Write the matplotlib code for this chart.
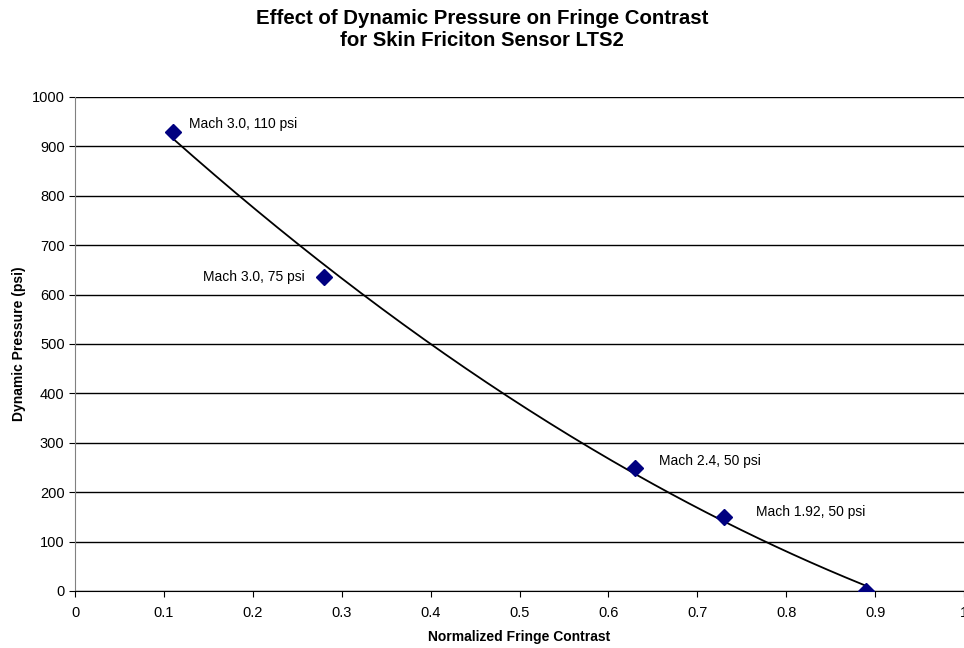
import numpy as np
import matplotlib
matplotlib.use("Agg")
import matplotlib.pyplot as plt

plt.rcParams['font.family'] = ['Liberation Sans', 'DejaVu Sans']

contrast = [0.11, 0.28, 0.63, 0.73, 0.89]
pressure = [930, 635, 250, 150, 0]
labels = ["Mach 3.0, 110 psi", "Mach 3.0, 75 psi", "Mach 2.4, 50 psi", "Mach 1.92, 50 psi", ""]
x_ticks = [0, 0.1, 0.2, 0.3, 0.4, 0.5, 0.6, 0.7, 0.8, 0.9, 1]
y_ticks = [0, 100, 200, 300, 400, 500, 600, 700, 800, 900, 1000]

fig = plt.figure(figsize=(9.64, 6.48), dpi=100)
ax = fig.add_axes([75/964, 57/648, 1 - 75/964, (591-97)/648])

# trendline (2nd order polynomial fit)
coef = np.polyfit(contrast, pressure, 2)
xs = np.linspace(min(contrast), max(contrast), 200)
ax.plot(xs, np.polyval(coef, xs), color='black', lw=1.3, zorder=2)

ax.plot(contrast, pressure, linestyle='none', marker='D', color='#000080',
        markersize=8, zorder=3)

offsets = [(16, 8), (-19, 0), (24, 7), (32, 5)]
aligns = ['left', 'right', 'left', 'left']
for x, y, lab, off, ha in zip(contrast, pressure, labels, offsets, aligns):
    if lab:
        ax.annotate(lab, (x, y), xytext=off, textcoords='offset pixels',
                    ha=ha, va='center', fontsize=10)

ax.set_xlim(0, 1)
ax.set_ylim(0, 1000)
ax.set_xticks(x_ticks)
ax.set_xticklabels([str(t) for t in x_ticks])
ax.set_yticks(y_ticks)
ax.yaxis.grid(True, color='black', lw=1)
ax.set_axisbelow(True)
for s in ['top', 'right']:
    ax.spines[s].set_visible(False)
ax.spines['left'].set_color('#808080')
ax.spines['bottom'].set_color('black')
ax.tick_params(labelsize=10.5, length=4, direction='out')
ax.tick_params(axis='x', pad=7)
ax.set_xlabel('Normalized Fringe Contrast', fontsize=10, fontweight='bold', labelpad=7)
ax.set_ylabel('Dynamic Pressure (psi)', fontsize=10, fontweight='bold', labelpad=4)

fig.text(482/964, 1 - 8.5/648, 'Effect of Dynamic Pressure on Fringe Contrast\nfor Skin Friciton Sensor LTS2',
         ha='center', va='top', fontsize=14.7, fontweight='bold', linespacing=1.2)

fig.savefig('out.png', dpi=100)
